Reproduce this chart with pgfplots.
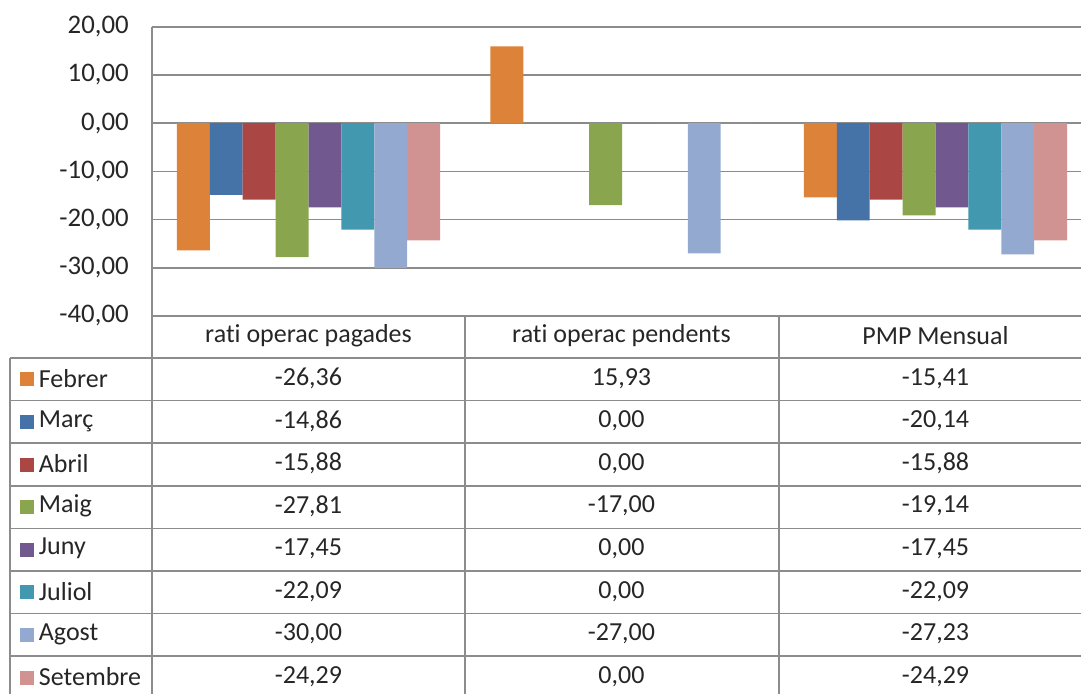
\documentclass[border=0pt]{standalone}
\usepackage{pgfplots}
\pgfplotsset{compat=1.18}
\usepackage{pgfplotstable}
\usepackage{fontspec}
\setmainfont{Carlito}[Ligatures=NoCommon]
\definecolor{cFeb}{HTML}{DD8239}
\definecolor{cMar}{HTML}{4572A7}
\definecolor{cAbr}{HTML}{AA4643}
\definecolor{cMai}{HTML}{89A54E}
\definecolor{cJun}{HTML}{71588F}
\definecolor{cJul}{HTML}{4198AF}
\definecolor{cAgo}{HTML}{93A9CF}
\definecolor{cSet}{HTML}{D19392}
\definecolor{gridc}{HTML}{8C8C8C}
\definecolor{txt}{HTML}{262626}
\pgfplotstableread{
x Febrer Marc Abril Maig Juny Juliol Agost Setembre
0 -26.36 -14.86 -15.88 -27.81 -17.45 -22.09 -30.00 -24.29
1 15.93 0 0 -17.00 0 0 -27.00 0
2 -15.41 -20.14 -15.88 -19.14 -17.45 -22.09 -27.23 -24.29
}\datatable
\begin{document}
\begin{tikzpicture}[x=0.5pt,y=0.5pt,font=\fontsize{13}{16}\selectfont,text=txt]
\path[use as bounding box] (0,0) rectangle (1081,693);
\begin{axis}[
  at={(75.875pt,188.5pt)}, anchor=south west,
  scale only axis, width=470.25pt, height=144.6pt,
  xmin=-0.5, xmax=2.5, ymin=-40, ymax=20,
  ytick={-40,-30,...,20},
  axis x line=none, axis y line*=left,
  y axis line style={gridc, line width=0.8pt},
  ymajorgrids, major grid style={gridc, line width=0.8pt},
  major tick length=0pt,
  yticklabel style={xshift=-8pt, font=\fontsize{13.4}{16}\selectfont, text=txt},
  /pgf/number format/.cd, fixed, fixed zerofill, precision=2, use comma, assume math mode=true,
  /pgfplots/.cd,
  ybar=0pt, bar width=16.45pt,
  clip=false,
]
\addplot[fill=cFeb, draw=none] table[x=x,y=Febrer]{\datatable};
\addplot[fill=cMar, draw=none] table[x=x,y=Marc]{\datatable};
\addplot[fill=cAbr, draw=none] table[x=x,y=Abril]{\datatable};
\addplot[fill=cMai, draw=none] table[x=x,y=Maig]{\datatable};
\addplot[fill=cJun, draw=none] table[x=x,y=Juny]{\datatable};
\addplot[fill=cJul, draw=none] table[x=x,y=Juliol]{\datatable};
\addplot[fill=cAgo, draw=none] table[x=x,y=Agost]{\datatable};
\addplot[fill=cSet, draw=none] table[x=x,y=Setembre]{\datatable};
\end{axis}
% table grid
\begin{scope}[gridc, line width=0.8pt]
\foreach \i in {0,...,8} \draw (10,{693-358-42.6*\i}) -- (1092,{693-358-42.6*\i});
\draw (10,335) -- (10,-10);
\draw (151.75,377) -- (151.75,-10);
\draw (465.25,377) -- (465.25,-10);
\draw (778.75,377) -- (778.75,-10);
\draw (151.75,377) -- (1092,377);
\end{scope}
% header
\node at (308.5,357) {rati operac pagades};
\node at (621.5,357) {rati operac pendents};
\node at (935.5,357) {PMP Mensual};
% rows
\foreach \i/\c/\n/\a/\b/\d in {
0/cFeb/Febrer/{-26,36}/{15,93}/{-15,41},
1/cMar/Març/{-14,86}/{0,00}/{-20,14},
2/cAbr/Abril/{-15,88}/{0,00}/{-15,88},
3/cMai/Maig/{-27,81}/{-17,00}/{-19,14},
4/cJun/Juny/{-17,45}/{0,00}/{-17,45},
5/cJul/Juliol/{-22,09}/{0,00}/{-22,09},
6/cAgo/Agost/{-30,00}/{-27,00}/{-27,23},
7/cSet/Setembre/{-24,29}/{0,00}/{-24,29}}{
  \pgfmathsetmacro{\yc}{693-358-42.6*(\i+0.5)+1}
  \fill[\c] (19.5,\yc-8) rectangle (33.5,\yc+6);
  \node[anchor=west, inner sep=0pt] at (38.5,\yc) {\n};
  \node at (308.5,\yc) {\a};
  \node at (621.5,\yc) {\b};
  \node at (935.5,\yc) {\d};
}
\end{tikzpicture}
\end{document}
